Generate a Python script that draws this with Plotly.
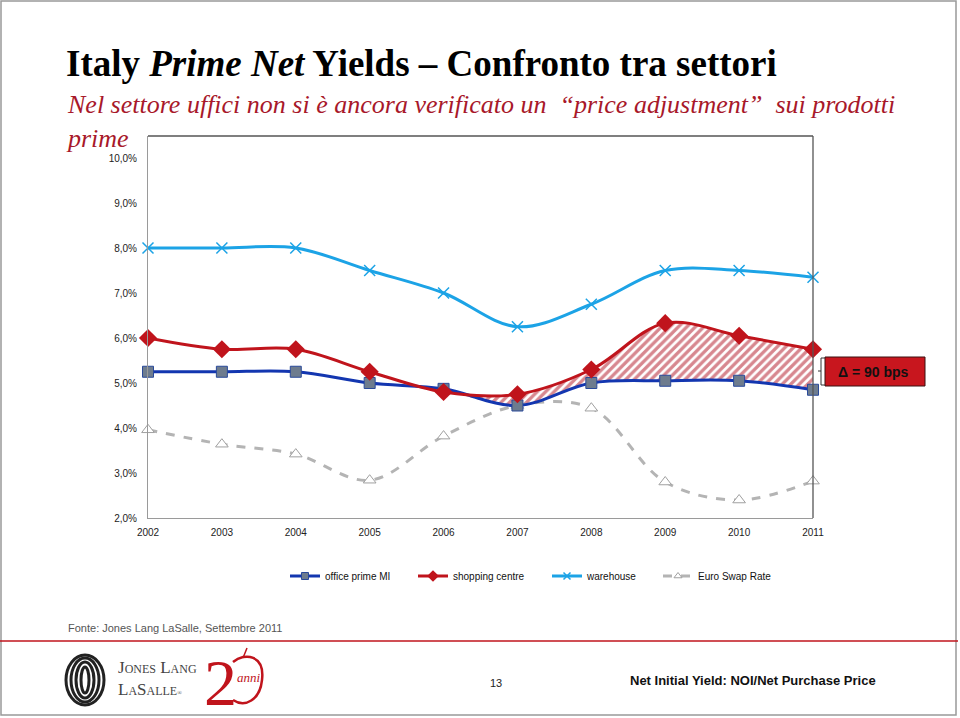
import plotly.graph_objects as go

years = [2002, 2003, 2004, 2005, 2006, 2007, 2008, 2009, 2010, 2011]
office = [5.25, 5.25, 5.25, 5.00, 4.87, 4.50, 5.00, 5.05, 5.05, 4.85]
shopping = [6.00, 5.75, 5.75, 5.25, 4.80, 4.75, 5.30, 6.33, 6.05, 5.75]
warehouse = [8.00, 8.00, 8.00, 7.50, 7.00, 6.25, 6.75, 7.50, 7.50, 7.35]
swap = [3.96, 3.64, 3.42, 2.84, 3.82, 4.50, 4.44, 2.80, 2.40, 2.82]
ytick_vals = [2, 3, 4, 5, 6, 7, 8, 9, 10]
ytick_text = ["2,0%", "3,0%", "4,0%", "5,0%", "6,0%", "7,0%", "8,0%", "9,0%", "10,0%"]
series_names = ["office prime MI", "shopping centre", "warehouse", "Euro Swap Rate"]
gap_start = 4  # index of 2006, start of hatched gap

W, H = 960, 718
def px(x): return x / W
def py(y): return 1 - y / H

BLUE = "#1336B0"
RED = "#C0141C"
LBLUE = "#1CA3E6"
GRAY = "#B4B4B4"
SANS = "Liberation Sans, Arial"

styles = {
    "office prime MI": dict(line=dict(color=BLUE, width=3, shape="spline"),
                            marker=dict(symbol="square", size=11, color="#6E7C8E",
                                        line=dict(color="#2A4A9A", width=1)), small=7),
    "shopping centre": dict(line=dict(color=RED, width=3, shape="spline"),
                            marker=dict(symbol="diamond", size=14, color=RED,
                                        line=dict(color=RED, width=0)), small=9),
    "warehouse": dict(line=dict(color=LBLUE, width=3, shape="spline"),
                      marker=dict(symbol="x-thin", size=11, color=LBLUE,
                                  line=dict(color=LBLUE, width=1.5)), small=7),
    "Euro Swap Rate": dict(line=dict(color=GRAY, width=3, dash="dash", shape="spline"),
                           marker=dict(symbol="triangle-up", size=11, color="white",
                                       line=dict(color="#A0A0A0", width=1)), small=7),
}
values = {"office prime MI": office, "shopping centre": shopping,
          "warehouse": warehouse, "Euro Swap Rate": swap}
legend_left_px = [291, 419, 553, 664]

fig = go.Figure()

# hatched gap between office and shopping
fig.add_trace(go.Scatter(x=years[gap_start:], y=office[gap_start:], mode="lines",
                         line=dict(width=0, shape="spline", color=BLUE),
                         showlegend=False, hoverinfo="skip"))
fig.add_trace(go.Scatter(x=years[gap_start:], y=shopping[gap_start:], mode="lines",
                         line=dict(width=1, shape="spline", color=RED),
                         fill="tonexty", fillcolor="white",
                         fillpattern=dict(shape="/", fgcolor="#B01020", bgcolor="white",
                                          size=6, solidity=0.55),
                         showlegend=False, hoverinfo="skip"))

draw_order = ["Euro Swap Rate", "warehouse", "office prime MI", "shopping centre"]
for nm in draw_order:
    st = styles[nm]
    fig.add_trace(go.Scatter(x=years, y=values[nm], name=nm, mode="lines+markers",
                             line=st["line"], marker=st["marker"], cliponaxis=False,
                             showlegend=False))

# legend entries with small markers, one legend box per entry
legend_layouts = {}
for i, nm in enumerate(series_names):
    st = styles[nm]
    mk = dict(st["marker"])
    mk["size"] = st["small"]
    lg = "legend" if i == 0 else f"legend{i + 1}"
    fig.add_trace(go.Scatter(x=[None], y=[None], name=nm, mode="lines+markers",
                             line=st["line"], marker=mk, legend=lg,
                             showlegend=True, hoverinfo="skip"))
    legend_layouts[lg] = dict(orientation="h", x=px(legend_left_px[i] - 6), y=py(576),
                              xanchor="left", yanchor="middle",
                              font=dict(family=SANS, size=10, color="#111"),
                              bgcolor="rgba(0,0,0,0)")

yrange_top = 2 + (518 - 136) / 45.0

fig.update_layout(
    width=W, height=H, margin=dict(l=0, r=0, t=0, b=0, autoexpand=False),
    paper_bgcolor="white", plot_bgcolor="white",
    xaxis=dict(domain=[px(148), px(813)], range=[2002, 2011], tickvals=years,
               ticktext=[str(y) for y in years], showgrid=False, zeroline=False,
               showline=True, linecolor="#9A9A9A", linewidth=1, ticks="", automargin=False,
               ticklabelstandoff=5,
               tickfont=dict(family=SANS, size=10, color="#222")),
    yaxis=dict(domain=[py(518), py(136)], range=[2, yrange_top], tickvals=ytick_vals,
               ticktext=ytick_text, showgrid=False, zeroline=False, automargin=False,
               showline=True, linecolor="#9A9A9A", linewidth=1, ticks="",
               ticklabelstandoff=8,
               tickfont=dict(family=SANS, size=10, color="#222")),
    showlegend=True,
    **legend_layouts,
)

shapes = []
# chart box top & right
shapes.append(dict(type="line", xref="paper", yref="paper", x0=px(148), x1=px(813),
                   y0=py(136), y1=py(136), line=dict(color="#555", width=1.3)))
shapes.append(dict(type="line", xref="paper", yref="paper", x0=px(813), x1=px(813),
                   y0=py(136), y1=py(518), line=dict(color="#555", width=1.3)))
# slide frame
shapes.append(dict(type="rect", xref="paper", yref="paper", x0=px(1), x1=px(956),
                   y0=py(715), y1=py(1), line=dict(color="#999", width=1.5)))
# red footer line
shapes.append(dict(type="line", xref="paper", yref="paper", x0=0, x1=px(958),
                   y0=py(641), y1=py(641), line=dict(color="#C0141C", width=1.5)))
# delta box
shapes.append(dict(type="rect", xref="paper", yref="paper", x0=px(825), x1=px(925),
                   y0=py(386), y1=py(357), fillcolor="#C8161E", line=dict(color="#3A1010", width=1)))
# bracket
shapes.append(dict(type="path", xref="paper", yref="paper",
                   path=f"M {px(825)} {py(358)} L {px(821)} {py(358)} L {px(821)} {py(385)} L {px(825)} {py(385)} "
                        f"M {px(821)} {py(371)} L {px(818)} {py(371)}",
                   line=dict(color="#333", width=1)))
# JLL logo rings
for i, (w, h) in enumerate([(19, 25), (14, 22), (9, 18), (4, 13)]):
    shapes.append(dict(type="circle", xref="paper", yref="paper",
                       x0=px(85 - w), x1=px(85 + w), y0=py(680 + h), y1=py(680 - h),
                       line=dict(color="#222", width=3)))
# apple-like outline for "20 anni"
shapes.append(dict(type="path", xref="paper", yref="paper",
                   path=f"M {px(233)} {py(662)} C {px(245)} {py(652)}, {px(265)} {py(655)}, {px(262)} {py(680)} "
                        f"C {px(260)} {py(700)}, {px(245)} {py(708)}, {px(233)} {py(700)}",
                   line=dict(color="#C0141C", width=2.5)))
shapes.append(dict(type="path", xref="paper", yref="paper",
                   path=f"M {px(243)} {py(658)} L {px(247)} {py(648)}",
                   line=dict(color="#C0141C", width=1.5)))
fig.update_layout(shapes=shapes)

ann = []
ann.append(dict(text="<b>Italy <i>Prime Net</i> Yields – Confronto tra settori</b>",
                x=px(64), y=py(64), xref="paper", yref="paper", xanchor="left", yanchor="middle",
                showarrow=False, font=dict(family="Liberation Serif, Times New Roman", size=37, color="black")))
ann.append(dict(text="<i>Nel settore uffici non si è ancora verificato un\u00a0 “price adjustment”\u00a0 sui prodotti<br>prime</i>",
                x=px(64), y=py(88), xref="paper", yref="paper", xanchor="left", yanchor="top",
                align="left", showarrow=False,
                font=dict(family="Liberation Serif, Times New Roman", size=26, color="#A8182A")))
ann.append(dict(text="<b>Δ = 90 bps</b>", x=px(873), y=py(372), xref="paper", yref="paper",
                xanchor="center", yanchor="middle",
                showarrow=False, font=dict(family=SANS, size=14, color="#111")))
ann.append(dict(text="Fonte: Jones Lang LaSalle, Settembre 2011", x=px(66), y=py(628),
                xref="paper", yref="paper", xanchor="left", yanchor="middle", showarrow=False,
                font=dict(family=SANS, size=11, color="#555")))
ann.append(dict(text="<b>Net Initial Yield: NOI/Net Purchase Price</b>", x=px(628), y=py(680),
                xref="paper", yref="paper", xanchor="left", yanchor="middle", showarrow=False,
                font=dict(family=SANS, size=13, color="#111")))
ann.append(dict(text="13", x=px(496), y=py(691), xref="paper", yref="paper", showarrow=False,
                font=dict(family=SANS, size=11, color="#222")))
ann.append(dict(text="J<span style='font-size:12px'>ONES</span> L<span style='font-size:12px'>ANG</span>",
                x=px(116), y=py(667), xref="paper", yref="paper", xanchor="left", yanchor="middle",
                showarrow=False, font=dict(family="Liberation Serif", size=17, color="#444")))
ann.append(dict(text="L<span style='font-size:12px'>A</span>S<span style='font-size:12px'>ALLE</span><span style='font-size:6px'>®</span>",
                x=px(116), y=py(689), xref="paper", yref="paper", xanchor="left", yanchor="middle",
                showarrow=False, font=dict(family="Liberation Serif", size=17, color="#444")))
ann.append(dict(text="2", x=px(220), y=py(682), xref="paper", yref="paper", showarrow=False,
                xanchor="center", yanchor="middle",
                font=dict(family="Liberation Serif", size=66, color="#C0141C")))
ann.append(dict(text="<i>anni</i>", x=px(249), y=py(677), xref="paper", yref="paper", showarrow=False,
                xanchor="center", yanchor="middle",
                font=dict(family="Liberation Serif", size=13, color="#C0141C")))
fig.update_layout(annotations=ann)

fig.write_html("out.html", config={"displayModeBar": False},
               post_script="document.body.style.margin='0';document.body.style.overflow='hidden';")
